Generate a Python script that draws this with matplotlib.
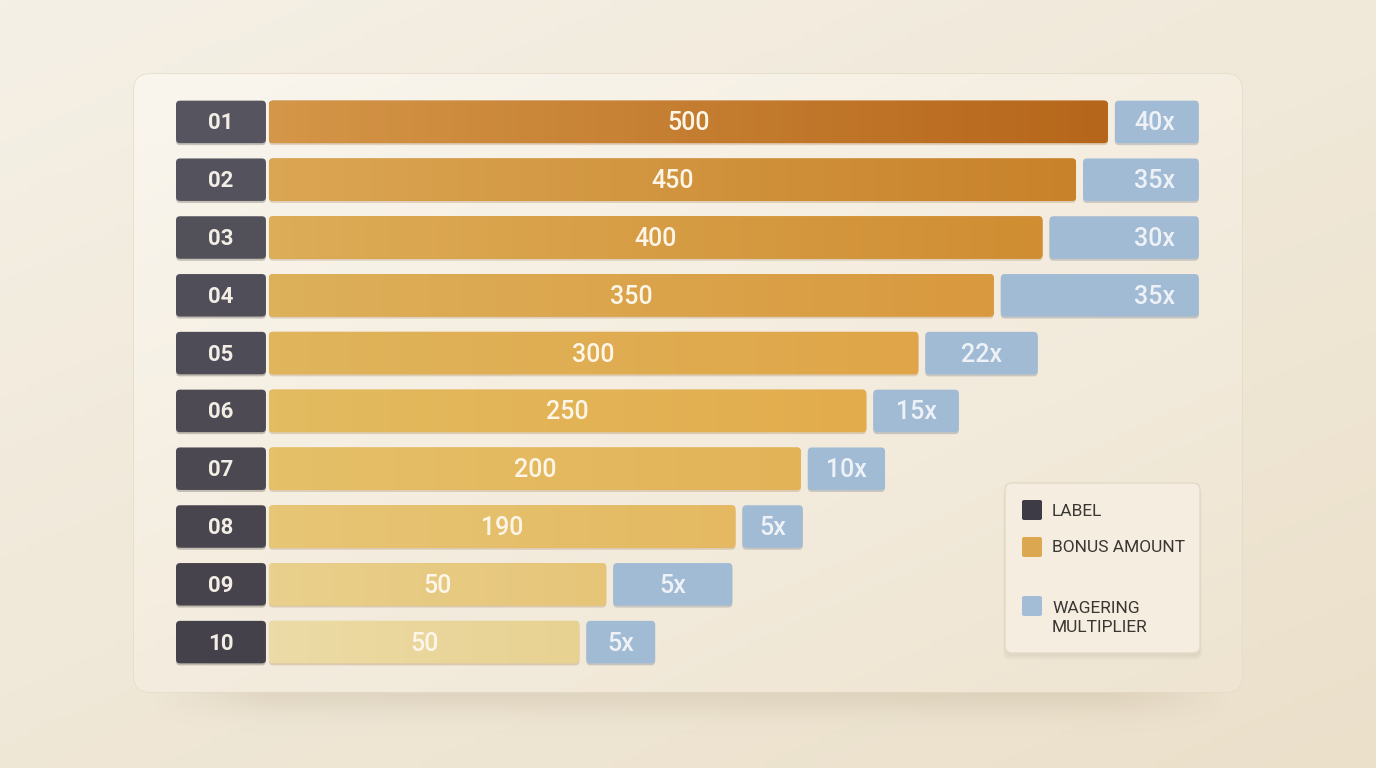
import numpy as np
import matplotlib.pyplot as plt
from matplotlib.patches import FancyBboxPatch
from matplotlib.colors import to_rgb

plt.rcParams['font.family'] = ['Roboto', 'DejaVu Sans']

# data
rows = ["01", "02", "03", "04", "05", "06", "07", "08", "09", "10"]
bonus_text = ["500", "450", "400", "350", "300", "250", "200", "190", "50", "50"]
bonus_len = [500, 481, 461, 432, 387, 356, 317, 278, 201, 185]   # drawn length of the bars
wager_text = ["40x", "35x", "30x", "35x", "22x", "15x", "10x", "5x", "5x", "5x"]
wager_len = [50, 69, 89, 118, 67, 51, 46, 36, 71, 41]            # drawn length of the blue boxes
legend_labels = ["LABEL", "BONUS AMOUNT", "WAGERING\nMULTIPLIER"]
legend_colors = ["#3d3b46", "#dba851", "#a3bdd6"]

# colours per row (left -> right of each bonus bar)
bonus_left = ["#d49648", "#dba653", "#ddad57", "#ddb05a", "#e0b55c",
              "#e3bb60", "#e5c068", "#e7c676", "#e9d08c", "#ecdba6"]
bonus_right = ["#b6661a", "#c8822a", "#d08d32", "#d9993e", "#dfa548",
               "#e2ac4c", "#e3b358", "#e4b961", "#e6c578", "#e8d292"]

W, H = 1376, 768
fig = plt.figure(figsize=(W / 100, H / 100), dpi=100)


def grad(c0, c1, n=64, diag=False):
    a = np.array(to_rgb(c0))
    b = np.array(to_rgb(c1))
    if diag:
        yy, xx = np.mgrid[0:1:120j, 0:1:200j]
        t = np.clip(0.55 * yy + 0.45 * xx, 0, 1)[..., None]
    else:
        t = np.linspace(0, 1, n)[None, :, None]
    return a * (1 - t) + b * t


# ---- background + panel (pixel coords)
bg = fig.add_axes([0, 0, 1, 1])
bg.axis('off')
bg.imshow(grad("#f5f0e6", "#ebe0ca", diag=True), extent=(0, W, H, 0), aspect='auto', zorder=0)

# soft blurred shadow below the panel
sy, sx = np.mgrid[600:760:1.0, 120:1256:2.0]
fade_x = np.clip((sx - 150) / 120, 0, 1) * np.clip((1230 - sx) / 120, 0, 1)
fade_y = 1 / (1 + np.exp((sy - 708) / 7))
shadow = np.zeros(sy.shape + (4,))
shadow[..., :3] = to_rgb("#8a7756")
shadow[..., 3] = 0.16 * fade_x * fade_y
bg.imshow(shadow, extent=(120, 1256, 760, 600), aspect='auto', zorder=1)

panel = FancyBboxPatch((134, 74), 1108, 618, boxstyle="round,pad=0,rounding_size=16",
                       fc="#f6f1e6", ec="#e4dac8", lw=1.0, zorder=2)
bg.add_patch(panel)
im = bg.imshow(grad("#faf6ee", "#eee4d1", diag=True), extent=(134, 1242, 692, 74), aspect='auto', zorder=2.5)
im.set_clip_path(panel)
bg.set_xlim(0, W)
bg.set_ylim(H, 0)

# ---- bars
ax = fig.add_axes([176 / W, (H - 671) / H, 1024 / W, 578 / H])
ax.axis('off')
ax.patch.set_alpha(0)
px_x = 1024 / 610.3
px_y = 578 / 10.0
bh = 42.5 / px_y
dy = 1.5 / px_y   # small nudge so digits sit on the row centre


def rbox(x, y, w, h, fc, z, r=4, alpha=1.0):
    p = FancyBboxPatch((x, y - h / 2), w, h, boxstyle="round,pad=0,rounding_size=%f" % (r / px_x),
                       mutation_aspect=px_x / px_y, fc=fc, ec='none', zorder=z, alpha=alpha)
    ax.add_patch(p)
    return p


max_right = max(b + 7 / px_x + w for b, w in zip(bonus_len, wager_len))
for i in range(len(rows)):
    t = i / (len(rows) - 1)
    lab_c = np.array(to_rgb("#56555f")) * (1 - t) + np.array(to_rgb("#45414a")) * t

    # label box
    rbox(-55.4, i + 2 / px_y, 53.6, bh, "#2a2520", 1, alpha=0.25)
    rbox(-55.4, i, 53.6, bh, lab_c, 2)
    ax.text(-55.4 + 26.8, i + dy, rows[i], ha='center', va='center', color="#f2eee6",
            fontsize=16, fontweight='bold', zorder=5)

    # bonus bar with horizontal gradient
    rbox(0, i + 2 / px_y, bonus_len[i], bh, "#8a5a20", 1, alpha=0.22)
    bar = rbox(0, i, bonus_len[i], bh, bonus_right[i], 2)
    g = ax.imshow(grad(bonus_left[i], bonus_right[i]), extent=(0, bonus_len[i], i + bh / 2, i - bh / 2),
                  aspect='auto', zorder=3)
    g.set_clip_path(bar)
    ax.text(bonus_len[i] / 2, i + dy, bonus_text[i], ha='center', va='center', color="#fdf6e8",
            fontsize=18, fontweight='medium', zorder=5)

    # wagering box
    wx = bonus_len[i] + 7 / px_x
    rbox(wx, i + 2 / px_y, wager_len[i], bh, "#4a5a70", 1, alpha=0.25)
    rbox(wx, i, wager_len[i], bh, "#a1bbd5", 2)
    right = wx + wager_len[i]
    tx = right - 44 / px_x if right >= max_right - 1.0 else wx + wager_len[i] / 2
    ax.text(tx, i + dy, wager_text[i], ha='center', va='center', color="#eef2f7",
            fontsize=18, fontweight='medium', zorder=5)

ax.set_xlim(-55.4, 554.9)
ax.set_ylim(9.5, -0.5)

# ---- legend (pixel coords)
for k in range(5):
    bg.add_patch(FancyBboxPatch((1005 - k * 0.5, 486 + k), 195 + k, 170, boxstyle="round,pad=0,rounding_size=7",
                                fc="#6a5a40", ec='none', alpha=0.02, zorder=6))
bg.add_patch(FancyBboxPatch((1005, 483), 195, 170, boxstyle="round,pad=0,rounding_size=7",
                            fc="#f4ede0", ec="#e3d9c7", lw=1.0, zorder=7))
leg_y = [511, 548, 618]
box_y = [510, 547, 606]
for lab, col, ty, by in zip(legend_labels, legend_colors, leg_y, box_y):
    bg.add_patch(FancyBboxPatch((1022, by - 10), 20, 20, boxstyle="round,pad=0,rounding_size=2",
                                fc=col, ec='none', zorder=8))
    bg.text(1052, ty, lab, ha='left', va='center', color="#3a3632", fontsize=12.5,
            linespacing=1.3, zorder=8)

fig.savefig("out.png", dpi=100)
